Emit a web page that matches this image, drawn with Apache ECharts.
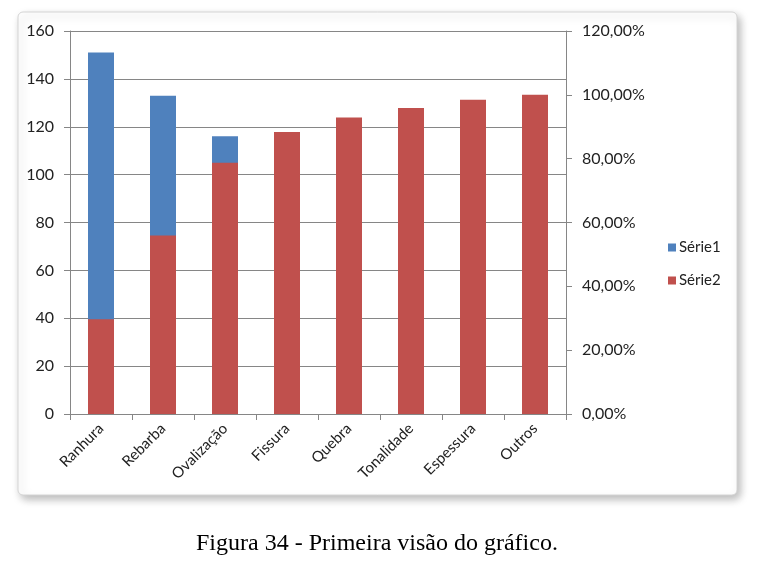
<!DOCTYPE html>
<html>
<head>
<meta charset="utf-8">
<script src="https://cdn.jsdelivr.net/npm/echarts@6/dist/echarts.min.js"></script>
<style>
  html, body { margin: 0; padding: 0; background: #fff; }
  #chart { width: 768px; height: 561px; }
</style>
</head>
<body>
<div id="chart"></div>
<script>
// categorias e valores
const categories = ['Ranhura', 'Rebarba', 'Ovalização', 'Fissura', 'Quebra', 'Tonalidade', 'Espessura', 'Outros']
const serie1 = [151, 133, 116, 49, 23, 15, 13, 8]
// percentual acumulado (eixo da direita)
const serie2 = [29.72, 55.91, 78.74, 88.39, 92.91, 95.87, 98.43, 100]
const leftTicks = [0, 160, 20]
const rightTicks = [0, 120, 20]

const gray = '#868686'
const font = 'Lato, "Open Sans", sans-serif'

const chart = echarts.init(document.getElementById('chart'))
chart.setOption({
  animation: false,
  color: ['#4F81BD', '#C0504D'],
  textStyle: { fontFamily: font },
  graphic: [
    {
      type: 'rect',
      z: -10,
      shape: { x: 18, y: 12, width: 719, height: 483, r: 5 },
      style: {
        fill: '#fff',
        stroke: '#d4d4d4',
        lineWidth: 1,
        shadowBlur: 8,
        shadowOffsetX: 3,
        shadowOffsetY: 4,
        shadowColor: 'rgba(0,0,0,0.28)'
      }
    },
    {
      type: 'text',
      left: 196,
      top: 532,
      style: {
        text: 'Figura 34 - Primeira visão do gráfico.',
        fontFamily: '"Liberation Serif", serif',
        fontSize: 24,
        fill: '#000'
      }
    }
  ],
  // largura 496 = 8 x 62, barras em pixels inteiros
  grid: { left: 70, right: 202, top: 31, bottom: 147 },
  legend: {
    orient: 'vertical',
    left: 663,
    top: 235,
    itemWidth: 8,
    itemHeight: 8,
    itemGap: 18,
    icon: 'rect',
    textStyle: { fontSize: 15, color: '#222', padding: [0, 0, 0, -2] },
    data: ['Série1', 'Série2']
  },
  xAxis: {
    type: 'category',
    data: categories,
    axisLine: { lineStyle: { color: gray } },
    axisTick: { show: true, length: 6, lineStyle: { color: gray } },
    axisLabel: { rotate: 45, fontSize: 15, color: '#222', margin: 12, interval: 0 }
  },
  yAxis: [
    {
      type: 'value',
      min: leftTicks[0],
      max: leftTicks[1],
      interval: leftTicks[2],
      axisLine: { show: true, lineStyle: { color: gray } },
      axisTick: { show: true, length: 6, lineStyle: { color: gray } },
      splitLine: { lineStyle: { color: gray } },
      axisLabel: { fontSize: 16, color: '#222', margin: 16 }
    },
    {
      type: 'value',
      min: rightTicks[0],
      max: rightTicks[1],
      interval: rightTicks[2],
      axisLine: { show: true, lineStyle: { color: gray } },
      axisTick: { show: true, length: 6, lineStyle: { color: gray } },
      splitLine: { show: false },
      axisLabel: {
        fontSize: 16,
        color: '#222',
        margin: 16,
        formatter: v => v.toFixed(2).replace('.', ',') + '%'
      }
    }
  ],
  series: [
    {
      name: 'Série1',
      type: 'bar',
      yAxisIndex: 0,
      data: serie1,
      barWidth: 26,
      barGap: '-100%'
    },
    {
      name: 'Série2',
      type: 'bar',
      yAxisIndex: 1,
      data: serie2,
      barWidth: 26,
      barGap: '-100%'
    }
  ]
})
</script>
</body>
</html>
